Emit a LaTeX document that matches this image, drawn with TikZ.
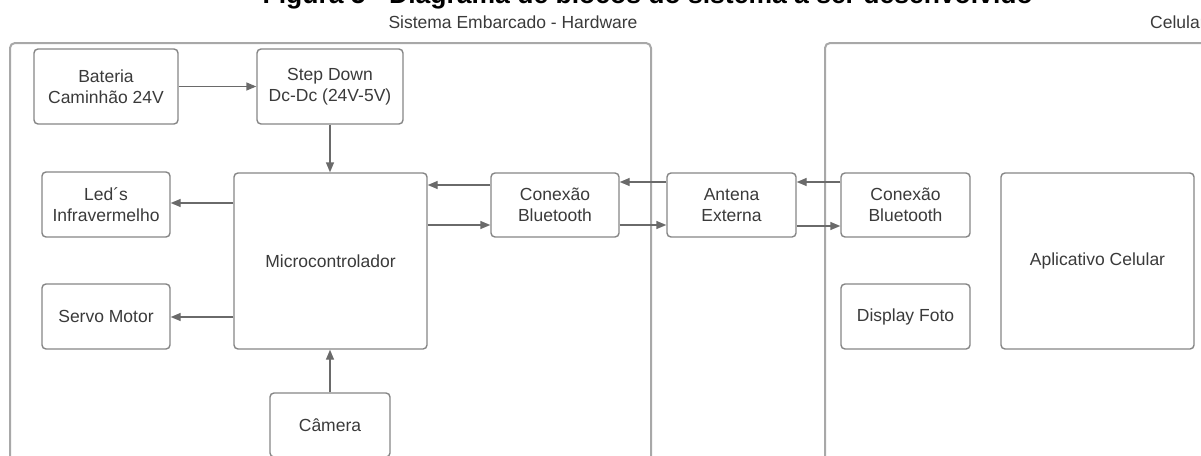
\documentclass[tikz,border=0pt]{standalone}
\usepackage{fontspec}
\setmainfont{Liberation Sans}
\usetikzlibrary{arrows.meta}
\definecolor{boxline}{HTML}{858585}
\definecolor{frameline}{HTML}{A8A8A8}
\definecolor{arrowline}{HTML}{6A6A6A}
\definecolor{txt}{HTML}{3A3A3A}
\tikzset{
  block/.style={draw=boxline, line width=1.4pt, rounded corners=4pt, inner sep=0pt,
    align=center, text=txt, font=\fontsize{17.5}{20.5}\selectfont},
  frame/.style={draw=frameline, line width=2pt, rounded corners=5pt},
  arr/.style={draw=arrowline, line width=1.4pt, -{Triangle[length=10pt,width=8pt]}},
  caption/.style={text=txt, font=\fontsize{17.5}{20.5}\selectfont, inner sep=0pt}
}
\begin{document}
\begin{tikzpicture}[x=1pt,y=-1pt]
\useasboundingbox (0,0) rectangle (1201,455);
\clip (0,0) rectangle (1201,455);

% figure caption, partly above the page edge
\node[anchor=base east, inner sep=0pt, font=\bfseries\fontsize{26.5}{30}\selectfont, text=black]
  (fig) at (1033,4) {Figura 5 - Diagrama de blocos do sistema a ser desenvolvido};

% the two subsystems
\draw[frame] (10,470) -- (10,43) -- (651,43) -- (651,470);
\draw[frame] (825,470) -- (825,43) -- (1230,43);
\node[caption] (hwlabel) at (513,22) {Sistema Embarcado - Hardware};
\node[caption, anchor=west] (cellabel) at (1150,22) {Celular};

% embedded hardware blocks
\node[block, minimum width=144pt, minimum height=75pt] (bat)   at (106,86.5)  {Bateria\\Caminhão 24V};
\node[block, minimum width=146pt, minimum height=75pt] (step)  at (330,86.5)  {Step Down\\Dc-Dc (24V-5V)};
\node[block, minimum width=193pt, minimum height=176pt] (micro) at (330.5,261) {Microcontrolador};
\node[block, minimum width=128pt, minimum height=65pt] (led)   at (106,204.5) {Led´s\\Infravermelho};
\node[block, minimum width=128pt, minimum height=65pt] (servo) at (106,316.5) {Servo Motor};
\node[block, minimum width=120pt, minimum height=64pt] (cam)   at (330,425)   {Câmera};
\node[block, minimum width=128pt, minimum height=64pt] (bt1)   at (555,205)   {Conexão\\Bluetooth};

% link between the two sides
\node[block, minimum width=129pt, minimum height=64pt] (ant)   at (731.5,205) {Antena\\Externa};

% phone blocks
\node[block, minimum width=129pt, minimum height=64pt] (bt2)   at (905.5,205) {Conexão\\Bluetooth};
\node[block, minimum width=129pt, minimum height=65pt] (disp)  at (905.5,316.5) {Display Foto};
\node[block, minimum width=193pt, minimum height=176pt] (app)  at (1097.5,261) {Aplicativo Celular};

% connectors
\draw[arr] (bat.east) -- (step.west);
\draw[arr] (step.south) -- (step.south |- micro.north);
\draw[arr] (micro.west |- 0,203) -- (led.east |- 0,203);
\draw[arr] (micro.west |- 0,317) -- (servo.east |- 0,317);
\draw[arr] (cam.north) -- (cam.north |- micro.south);
\draw[arr] (bt1.west |- 0,185) -- (micro.east |- 0,185);
\draw[arr] (micro.east |- 0,225) -- (bt1.west |- 0,225);
\draw[arr] (ant.west |- 0,182) -- (bt1.east |- 0,182);
\draw[arr] (bt1.east |- 0,225) -- (ant.west |- 0,225);
\draw[arr] (bt2.west |- 0,182) -- (ant.east |- 0,182);
\draw[arr] (ant.east |- 0,226) -- (bt2.west |- 0,226);
\end{tikzpicture}
\end{document}
